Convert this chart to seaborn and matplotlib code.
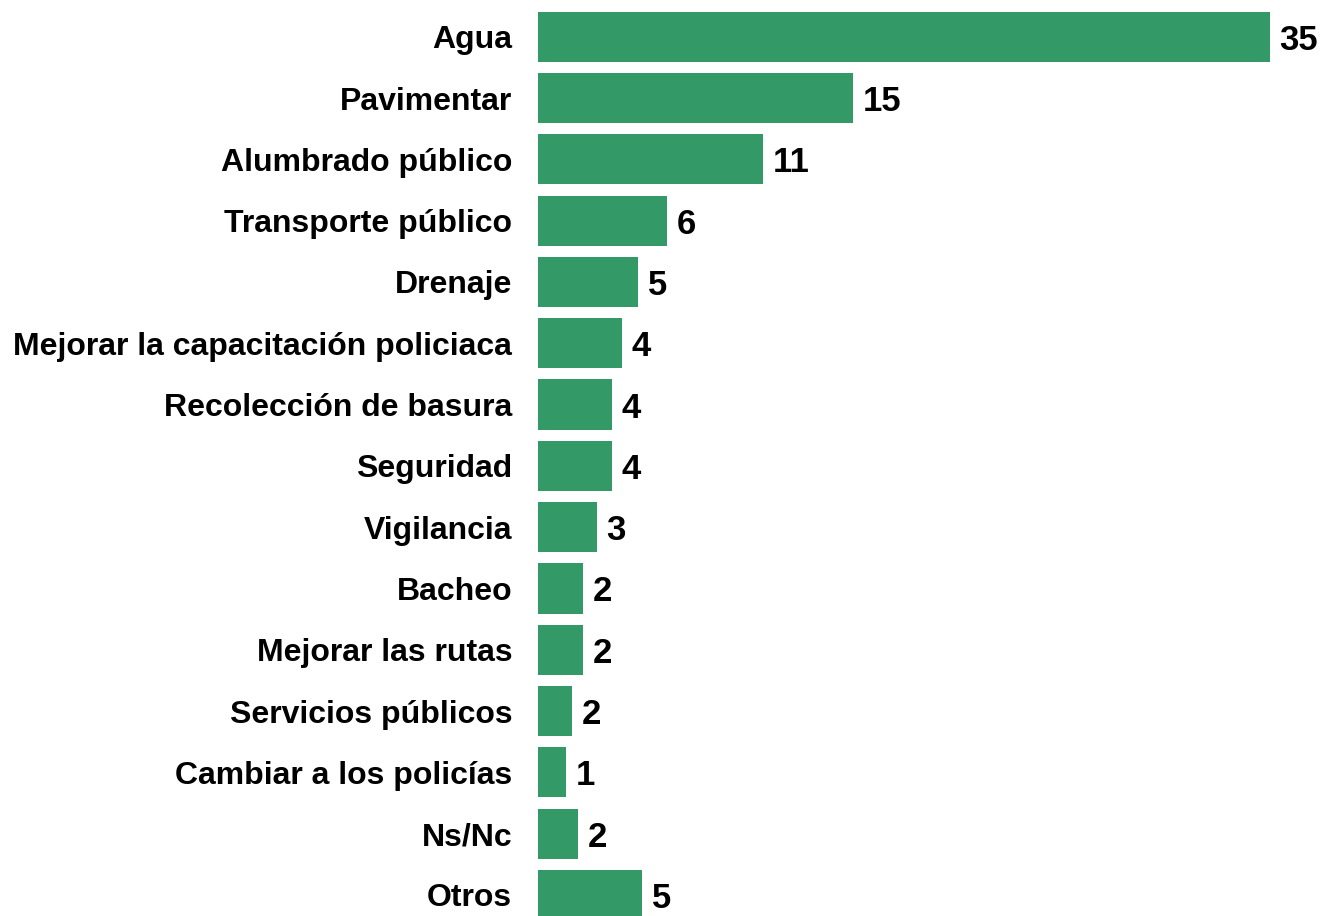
import matplotlib
matplotlib.use("Agg")
import matplotlib.pyplot as plt
import seaborn as sns
import pandas as pd

categorias = ["Agua", "Pavimentar", "Alumbrado público", "Transporte público",
              "Drenaje", "Mejorar la capacitación policiaca", "Recolección de basura",
              "Seguridad", "Vigilancia", "Bacheo", "Mejorar las rutas",
              "Servicios públicos", "Cambiar a los policías", "Ns/Nc", "Otros"]
valores = [35.0, 15.07, 10.76, 6.17, 4.78, 4.02, 3.54, 3.54, 2.82, 2.15, 2.15,
           1.63, 1.34, 1.91, 4.97]

df = pd.DataFrame({"cat": categorias, "val": valores})

sns.set_style("white")
plt.rcParams['font.family'] = ['Liberation Sans', 'DejaVu Sans']

fig = plt.figure(figsize=(13.24, 9.16), dpi=100)
ax = fig.add_axes([538 / 1324, -9.6 / 916, 786 / 1324, 919.5 / 916])

sns.barplot(data=df, x="val", y="cat", color="#339966", saturation=1,
            width=0.82, linewidth=0, ax=ax)

for i, v in enumerate(valores):
    ax.annotate(f"{round(v)}", (v, i), xytext=(7, 0), textcoords="offset points",
                va="center_baseline", ha="left", fontsize=25, fontweight="bold",
                color="black")

ax.set_xlim(0, 786 / 20.9)
ax.set_ylim(14.5, -0.5)
ax.set_xlabel("")
ax.set_ylabel("")
ax.set_xticks([])
ax.tick_params(axis="y", length=0, pad=18.5, labelsize=23, labelcolor="black")
for lab in ax.get_yticklabels():
    lab.set_fontweight("bold")
    lab.set_verticalalignment("center_baseline")
sns.despine(ax=ax, left=True, bottom=True)

fig.savefig("out.png", dpi=100)
